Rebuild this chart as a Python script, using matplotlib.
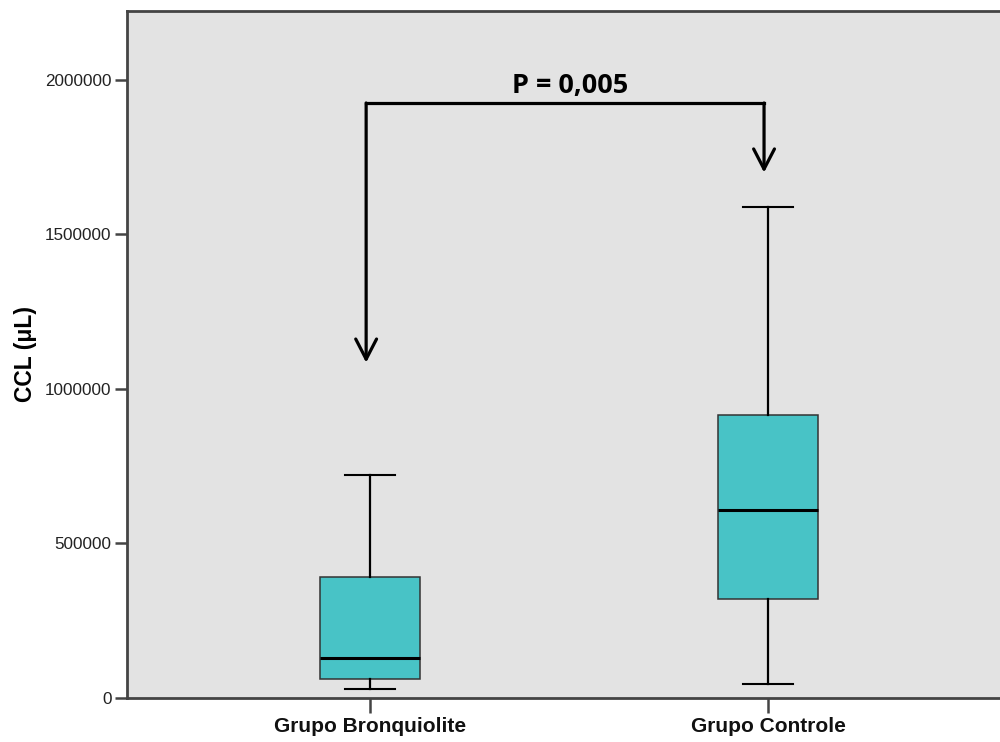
#!/usr/bin/env python
"""SPSS style boxplot: CCL (uL) por grupo."""

import matplotlib
matplotlib.use('Agg')
import matplotlib.pyplot as plt

# data
groups = ['Grupo Bronquiolite', 'Grupo Controle']
whislo = [28000, 46000]
q1 = [60000, 320000]
med = [128000, 608000]
q3 = [390000, 916000]
whishi = [721000, 1590000]

p_text = 'P = 0,005'
bracket_y = 1925000
arrow_tips = [1085000, 1700000]

yticks = [0, 500000, 1000000, 1500000, 2000000]

BG = '#e3e3e3'
BOX = '#48c3c6'
SPINE = '#444444'


def main():
    fig = plt.figure(figsize=(10, 7.42), dpi=100)
    ax = fig.add_axes([0.127, 0.0593, 0.873, 0.926])
    ax.set_facecolor(BG)

    stats = []
    for i, g in enumerate(groups):
        stats.append({'label': g, 'whislo': whislo[i], 'q1': q1[i],
                      'med': med[i], 'q3': q3[i], 'whishi': whishi[i],
                      'fliers': []})

    ax.bxp(stats, positions=[1, 2], widths=0.25, patch_artist=True,
           showfliers=False,
           boxprops=dict(facecolor=BOX, edgecolor='#333333', linewidth=1.1),
           medianprops=dict(color='black', linewidth=2.2),
           whiskerprops=dict(color='black', linewidth=1.6),
           capprops=dict(color='black', linewidth=1.5),
           capwidths=0.125)

    ax.set_xlim(0.389, 2.583)
    ax.set_ylim(0, 2223000)
    ax.set_yticks(yticks)
    ax.set_yticklabels([str(v) for v in yticks], fontsize=12.3,
                       family='Liberation Sans', color='#222222')
    ax.set_xticks([1, 2])
    ax.set_xticklabels(groups, fontsize=15, fontweight='bold',
                       family='Liberation Sans', color='#111111')
    ax.tick_params(axis='y', length=9, width=1.8, color=SPINE, pad=2)
    ax.tick_params(axis='x', length=11, width=1.8, color=SPINE, pad=3)

    ax.set_ylabel('CCL (μL)', fontsize=16.5, fontweight='bold',
                  family='Liberation Sans')
    ax.yaxis.set_label_coords(-0.103, 0.5)

    for s in ['left', 'bottom', 'top']:
        ax.spines[s].set_color(SPINE)
        ax.spines[s].set_linewidth(2)
    ax.spines['right'].set_visible(False)

    # significance bracket with arrows
    xl, xr = 0.99, 1.99
    ax.plot([xl, xr], [bracket_y, bracket_y], color='black', lw=2.3,
            solid_capstyle='projecting', zorder=5)
    for x, tip in zip([xl, xr], arrow_tips):
        ax.annotate('', xy=(x, tip), xytext=(x, bracket_y),
                    arrowprops=dict(arrowstyle='->,head_length=1.45,head_width=0.75',
                                    color='black', lw=2.3, shrinkA=0, shrinkB=0),
                    zorder=5)
    ax.text(1.502, bracket_y + 12000, p_text, ha='center',
            va='bottom', fontsize=19.5, fontweight='bold', family='Open Sans')

    fig.savefig('out.png', dpi=100)


if __name__ == '__main__':
    main()
